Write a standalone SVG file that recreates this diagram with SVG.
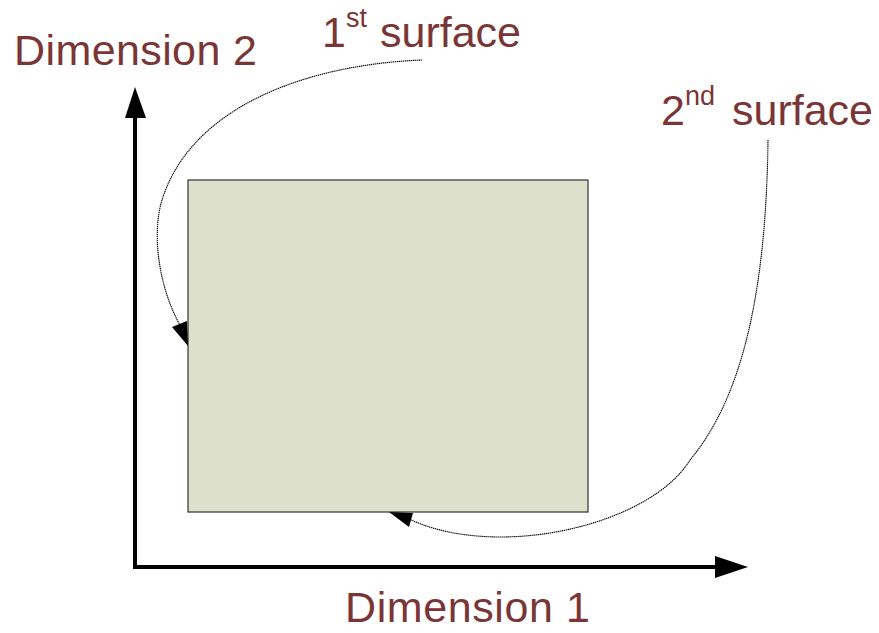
<svg xmlns="http://www.w3.org/2000/svg" width="879" height="633" viewBox="0 0 879 633">
<style>
.lbl{font-family:"Liberation Sans",Arial,sans-serif;font-size:43px;fill:#7a3636}
.sup{font-size:27px}
.axis{stroke:#000;stroke-width:4;fill:none}
.curve{stroke:#000;stroke-width:1.1;fill:none;stroke-dasharray:1.4 0.6}
.head{fill:#000}
</style>
<rect width="879" height="633" fill="#fff"/>
<g id="region">
<rect x="188" y="180" width="400" height="332" fill="#dde1cb" stroke="#333" stroke-width="1.2"/>
</g>
<g id="axes">
<path class="axis" d="M135,568 V116 M133,567 H717"/>
<polygon class="head" points="135,87 125,118 146,118"/>
<polygon class="head" points="748,567 715,556 715,578"/>
</g>
<g id="connectors">
<path class="curve" d="M422,60 C300,65 190,110 162,200 C151,236 160,290 180,325"/>
<polygon class="head" points="188,346 172,327 187,321"/>
<path class="curve" d="M768,140 C766,300 740,400 690,460 C650,525 500,560 411,520"/>
<polygon class="head" points="389,512 413,513 409,527"/>
</g>
<g id="label-dim2"><text class="lbl" x="14" y="65" textLength="243">Dimension 2</text></g>
<g id="label-dim1"><text class="lbl" x="345" y="622" textLength="245">Dimension 1</text></g>
<g id="label-first"><text class="lbl" x="322" y="47">1<tspan class="sup" dy="-20">st</tspan><tspan dy="20" x="380">surface</tspan></text></g>
<g id="label-second"><text class="lbl" x="661" y="125">2<tspan class="sup" dy="-20">nd</tspan><tspan dy="20" x="732">surface</tspan></text></g>
</svg>
